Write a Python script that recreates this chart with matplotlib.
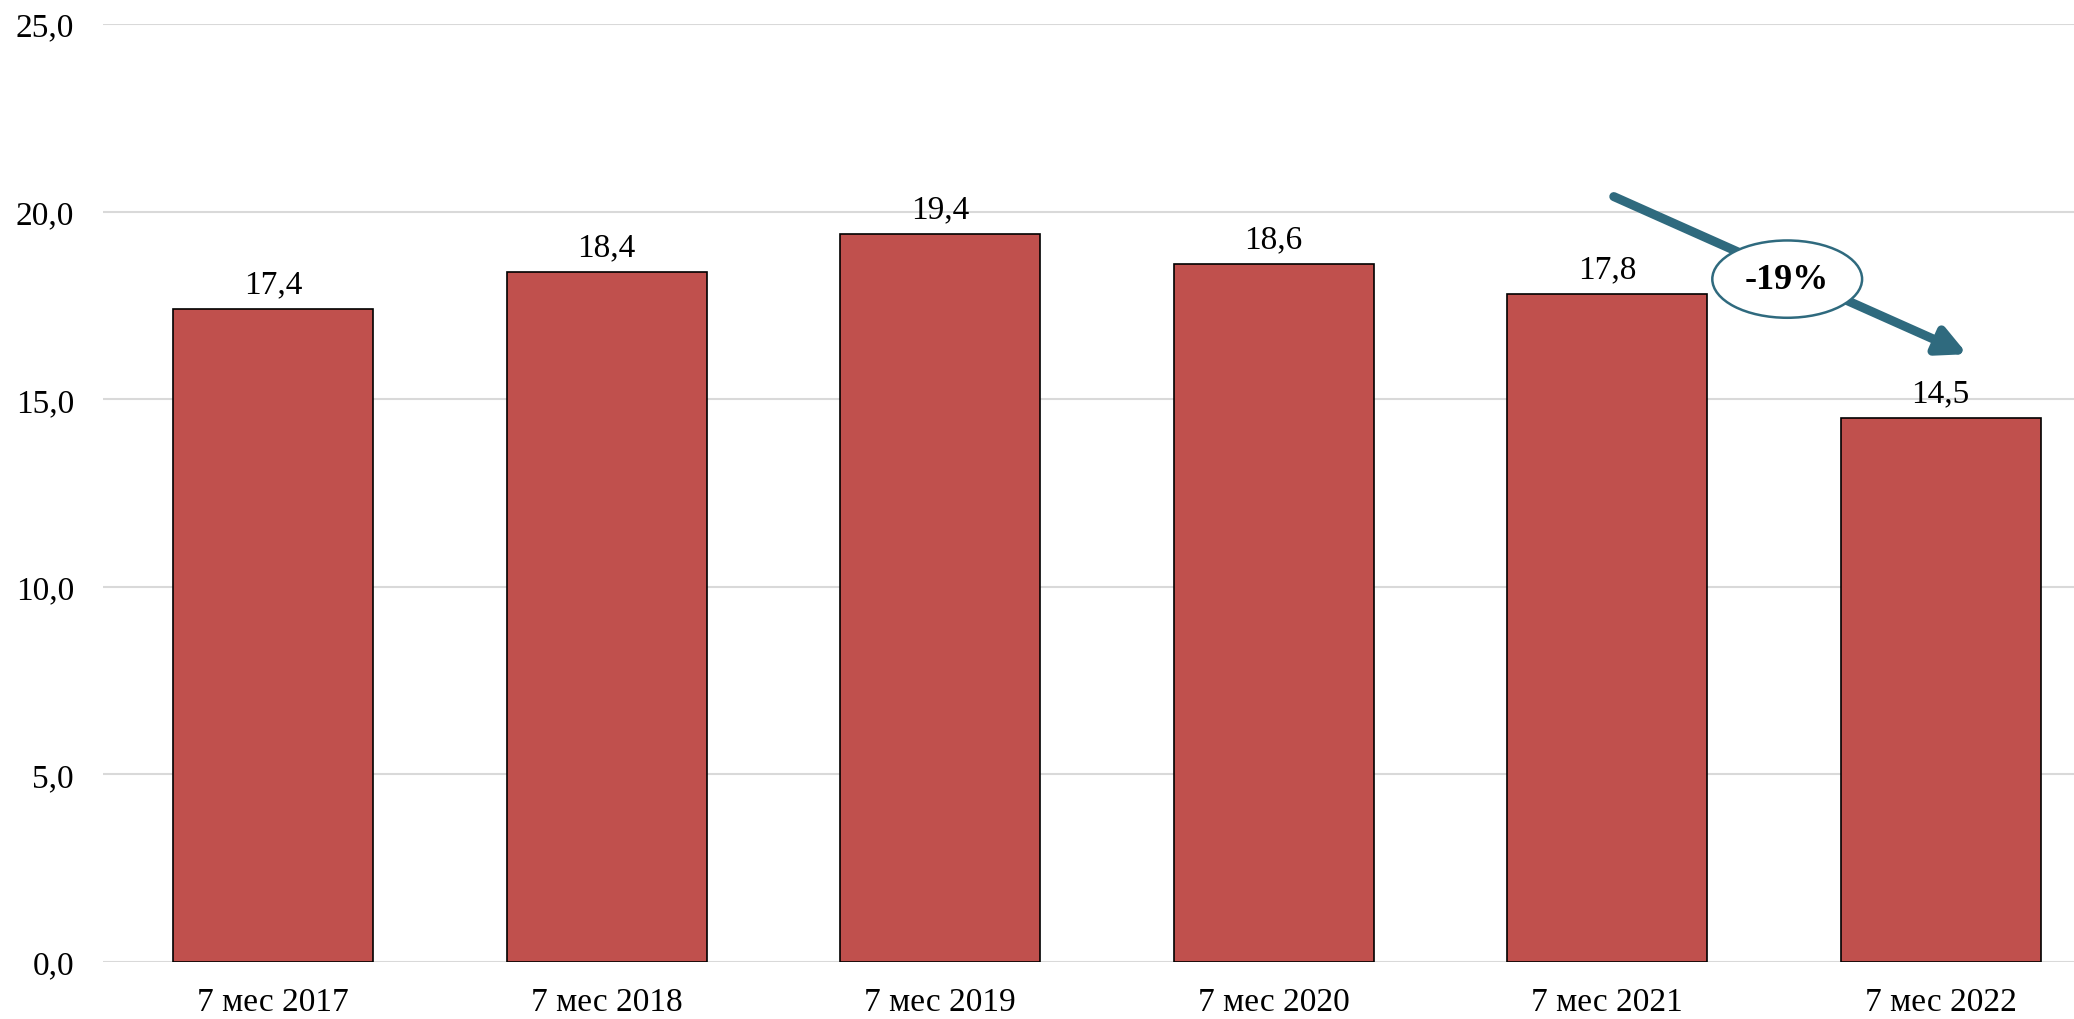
import matplotlib
matplotlib.use("Agg")
import matplotlib.pyplot as plt

# dados
categorias = ["7 мес 2017", "7 мес 2018", "7 мес 2019", "7 мес 2020", "7 мес 2021", "7 мес 2022"]
valores = [17.4, 18.4, 19.4, 18.6, 17.8, 14.5]
yticks = [0, 5, 10, 15, 20, 25]
seta_inicio = (4.02, 20.4)
seta_fim = (5.08, 16.2)
rotulo_seta = "-19%"

cor_barra = "#C0504D"
cor_seta = "#2F6A7E"

plt.rcParams["font.family"] = ["Liberation Serif", "DejaVu Serif"]

fig = plt.figure(figsize=(20.74, 10.2), dpi=100)
ax = fig.add_axes([0.0497, 0.0559, 0.9503, 0.9196])

x = range(len(categorias))
ax.bar(x, valores, width=0.6, color=cor_barra, edgecolor="black", linewidth=1.2, zorder=3)

for xi, v in zip(x, valores):
    ax.annotate(f"{v:.1f}".replace(".", ","), (xi, v), xytext=(0, 7),
                textcoords="offset points", ha="center", va="bottom", fontsize=24)

ax.set_xlim(-0.51, 5.40)
ax.set_ylim(0, 25)
ax.set_yticks(yticks)
ax.set_yticklabels([f"{t:.1f}".replace(".", ",") for t in yticks])
ax.set_xticks(list(x))
ax.set_xticklabels(categorias)
ax.tick_params(axis="both", length=0, labelsize=24)
ax.tick_params(axis="y", pad=21)
ax.tick_params(axis="x", pad=18)

ax.grid(axis="y", color="#D9D9D9", linewidth=1.5, zorder=0)
for s in ax.spines.values():
    s.set_visible(False)

# seta de variação
ax.annotate("", xy=seta_fim, xytext=seta_inicio,
            arrowprops=dict(arrowstyle="-|>", lw=6.5, color=cor_seta, mutation_scale=42,
                            shrinkA=0, shrinkB=0), zorder=4)
meio = ((seta_inicio[0] + seta_fim[0]) / 2, (seta_inicio[1] + seta_fim[1]) / 2)
ax.text(meio[0] - 0.01, meio[1] - 0.1, rotulo_seta, ha="center", va="center", fontsize=26,
        fontweight="bold", zorder=5,
        bbox=dict(boxstyle="ellipse,pad=0.3", fc="white", ec=cor_seta, lw=1.8))

fig.savefig("out.png", dpi=100)
